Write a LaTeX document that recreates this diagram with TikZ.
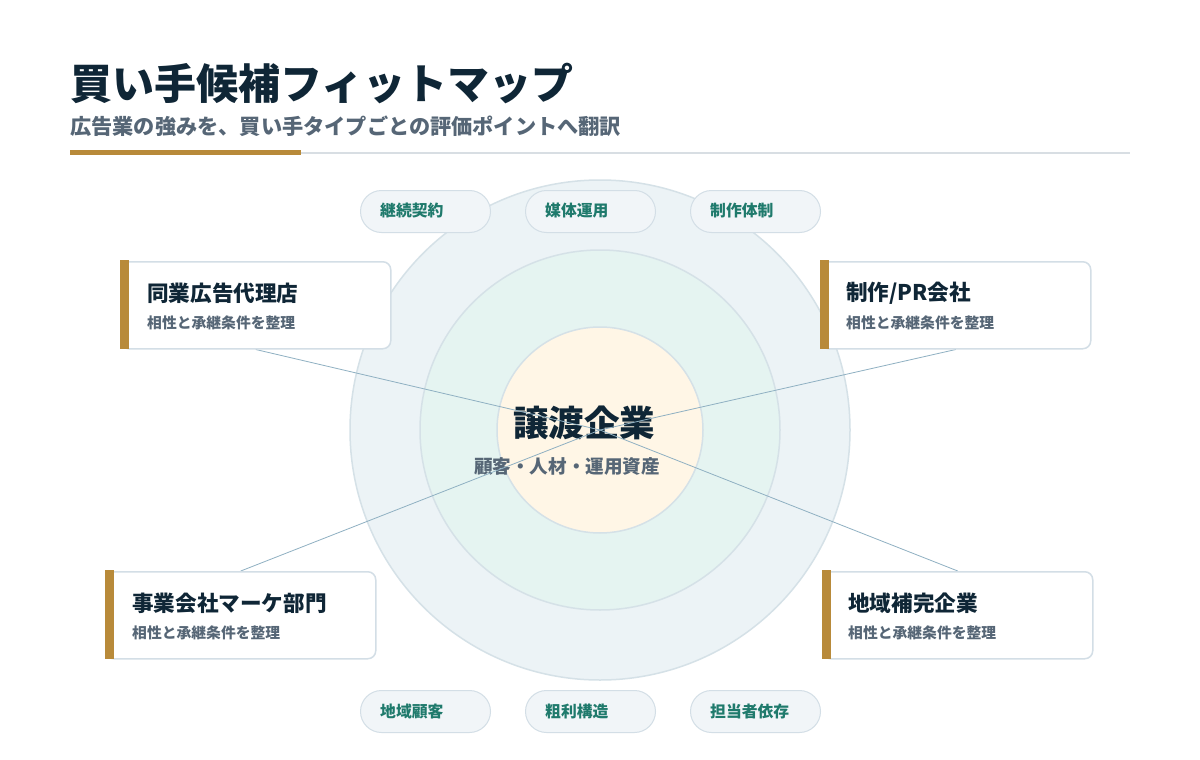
\documentclass[tikz,border=0pt]{standalone}
\usepackage{fontspec}
\setmainfont{Noto Sans CJK JP}
\definecolor{navy}{HTML}{0F2636}
\definecolor{slate}{HTML}{566676}
\definecolor{gold}{HTML}{B88A3A}
\definecolor{rule}{HTML}{D8DEE3}
\definecolor{cardline}{HTML}{D3DEE6}
\definecolor{teal}{HTML}{1F7A6C}
\definecolor{link}{HTML}{8FB0C2}
\definecolor{outerfill}{HTML}{ECF3F6}
\definecolor{outerline}{HTML}{D5E1E7}
\definecolor{midfill}{HTML}{E5F4F1}
\definecolor{innerfill}{HTML}{FFF6E6}
\definecolor{pillfill}{HTML}{F1F5F8}
\tikzset{
  card/.style={draw=cardline, line width=1.5pt, fill=white, rounded corners=8pt,
    minimum width=270pt, minimum height=87pt, anchor=north west, inner sep=0pt},
  goldbar/.style={fill=gold, draw=none},
  ctitle/.style={anchor=west, inner sep=0pt, text=navy, font=\bfseries\fontsize{21.6pt}{25pt}\selectfont},
  csub/.style={anchor=west, inner sep=0pt, text=slate, font=\bfseries\fontsize{14.8pt}{17pt}\selectfont},
  pill/.style={draw=cardline, line width=1pt, fill=pillfill, rounded corners=21pt,
    minimum width=130pt, minimum height=42pt, anchor=north west, inner sep=0pt},
  pilltext/.style={anchor=west, inner sep=0pt, text=teal, font=\bfseries\fontsize{15.8pt}{18pt}\selectfont},
  linkline/.style={draw=link, line width=0.8pt},
}
\begin{document}
\begin{tikzpicture}[x=1pt,y=-1pt]
\useasboundingbox (0,0) rectangle (1200,760);
\fill[white] (0,0) rectangle (1200,760);
% header
\node[anchor=west, inner sep=0pt, text=navy, font=\bfseries\fontsize{42pt}{48pt}\selectfont] (title) at (70,83) {買い手候補フィットマップ};
\node[anchor=west, inner sep=0pt, text=slate, font=\bfseries\fontsize{21.2pt}{25pt}\selectfont] (subtitle) at (70,126.5) {広告業の強みを、買い手タイプごとの評価ポイントへ翻訳};
\fill[rule] (301,151.5) rectangle (1130,153.8);
\fill[gold] (70,150) rectangle (301,155);
% circles
\coordinate (ctr) at (600,430);
\draw[fill=outerfill, draw=outerline, line width=1.5pt] (ctr) circle[radius=250pt];
\draw[fill=midfill, draw=outerline, line width=1.5pt] (ctr) circle[radius=180pt];
\draw[fill=innerfill, draw=outerline, line width=1.5pt] (ctr) circle[radius=103pt];
\node[inner sep=0pt, text=navy, font=\bfseries\fontsize{35.5pt}{40pt}\selectfont] (core) at (584,423) {譲渡企業};
\node[inner sep=0pt, text=slate, font=\bfseries\fontsize{18.6pt}{21pt}\selectfont] (coresub) at (567,466) {顧客・人材・運用資産};
% pills
\node[pill] (p1) at (360,190) {};
\node[pill] (p2) at (525,190) {};
\node[pill] (p3) at (690,190) {};
\node[pill] (p4) at (360,690) {};
\node[pill] (p5) at (525,690) {};
\node[pill] (p6) at (690,690) {};
\node[pilltext] (t1) at (380,211) {継続契約};
\node[pilltext] (t2) at (545,211) {媒体運用};
\node[pilltext] (t3) at (710,211) {制作体制};
\node[pilltext] (t4) at (380,711) {地域顧客};
\node[pilltext] (t5) at (545,711) {粗利構造};
\node[pilltext] (t6) at (710,711) {担当者依存};
% card anchors (invisible), links, then visible cards
\node[card, draw=none, fill=none] (ca) at (120,261) {};
\node[card, draw=none, fill=none] (cb) at (820,261) {};
\node[card, draw=none, fill=none] (cc) at (105,571) {};
\node[card, draw=none, fill=none] (cd) at (822,571) {};
\draw[linkline] (ca.south) -- (ctr);
\draw[linkline] (cb.south) -- (ctr);
\draw[linkline] (cc.north) -- (ctr);
\draw[linkline] (cd.north) -- (ctr);
\node[card] (cardA) at (120,261) {};
\node[card] (cardB) at (820,261) {};
\node[card] (cardC) at (105,571) {};
\node[card] (cardD) at (822,571) {};
\fill[goldbar] (120,260.3) rectangle (129,348.7);
\fill[goldbar] (820,260.3) rectangle (829,348.7);
\fill[goldbar] (105,570.3) rectangle (114,658.7);
\fill[goldbar] (822,570.3) rectangle (831,658.7);
\node[ctitle] (ta) at (147,293) {同業広告代理店};
\node[csub] (sa) at (147,323) {相性と承継条件を整理};
\node[ctitle] (tb) at (846,293) {制作/PR会社};
\node[csub] (sb) at (846,323) {相性と承継条件を整理};
\node[ctitle] (tc) at (132,603) {事業会社マーケ部門};
\node[csub] (sc) at (132,633) {相性と承継条件を整理};
\node[ctitle] (td) at (848,603) {地域補完企業};
\node[csub] (sd) at (848,633) {相性と承継条件を整理};
\end{tikzpicture}
\end{document}
